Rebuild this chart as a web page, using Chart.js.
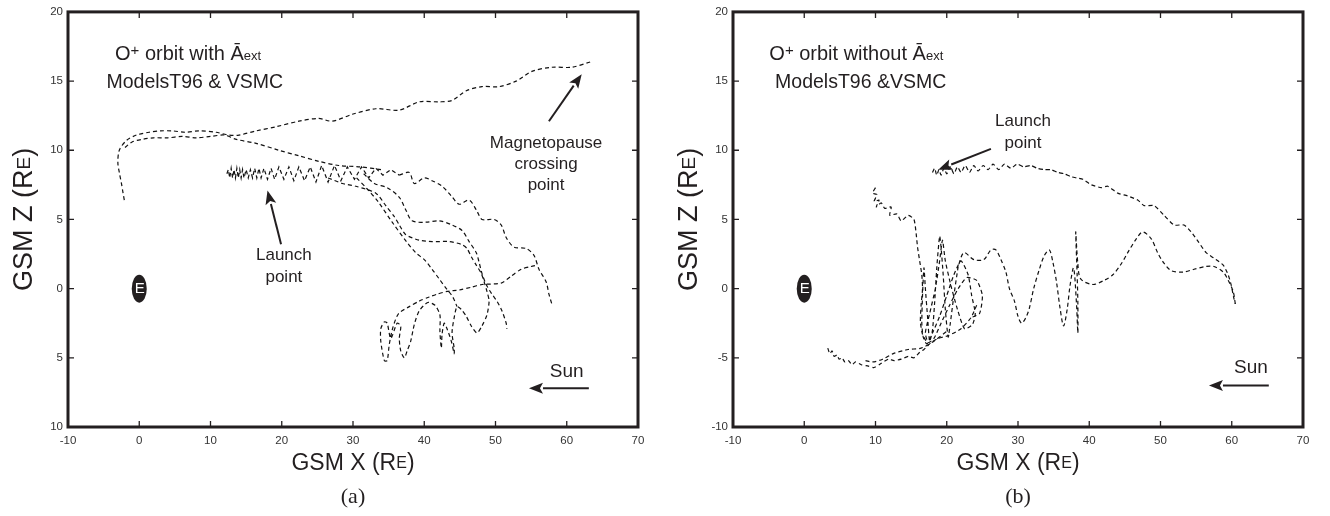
<!DOCTYPE html>
<html>
<head>
<meta charset="utf-8">
<script src="https://cdn.jsdelivr.net/npm/chart.js@4.4.0/dist/chart.umd.min.js"></script>
<style>
  body { margin: 0; background: #fff; }
  .panel { position: absolute; top: 0; width: 665px; height: 516px; }
</style>
</head>
<body>
<div class="panel" style="left:0"><canvas id="orbit-a" width="665" height="516"></canvas></div>
<div class="panel" style="left:665px"><canvas id="orbit-b" width="665" height="516"></canvas></div>
<script>
// tick values (GSM, Earth radii)
const xTicks = [-10, 0, 10, 20, 30, 40, 50, 60, 70];
const yTicks = [-10, -5, 0, 5, 10, 15, 20];

// (a) O+ orbit with A_ext — [x, z] pairs
const aArcOuter = [[-2.1,6.4],[-2.3,7.0],[-2.5,7.6],[-2.8,8.4],[-3.0,9.1],[-2.8,10.0],[-1.8,10.7],[-0.4,11.1],[1.4,11.3],[3.0,11.4],[4.7,11.4],[6.5,11.3],[8.4,11.4],[10.8,11.3],[12.5,11.1],[14.0,11.1],[16.4,11.4],[19.2,11.7],[22.4,12.1],[25.2,12.3],[27.1,12.1],[29.9,12.6],[33.2,13.0],[36.5,12.9],[39.3,13.5],[42.1,13.5],[43.9,13.6],[45.9,14.3],[48.1,14.6],[50.5,14.6],[52.9,15.0],[55.1,15.7],[57.9,16.0],[60.7,16.0],[63.4,16.4]];
const aArcInner = [[-2.0,10.2],[-1.0,10.6],[0.5,10.8],[2.0,10.9],[4.0,10.9],[6.0,11.0],[8.0,10.9],[10.0,11.0],[12.0,11.1],[13.5,10.8],[16.4,10.5],[19.6,10.0],[22.4,9.6],[25.2,9.2],[28.0,8.9],[31.0,8.8],[34.0,8.6]];
const aBand = [[12.3,8.3],[12.5,8.6],[12.7,8.0],[12.9,8.7],[13.1,8.0],[13.3,8.6],[13.5,8.0],[13.7,8.7],[13.9,8.0],[14.1,8.6],[14.3,8.0],[14.5,8.6],[14.7,8.0],[15.0,8.6],[15.3,8.0],[15.6,8.6],[15.9,8.0],[16.2,8.7],[16.5,8.0],[16.8,8.7],[17.1,8.0],[17.5,8.7],[18.0,7.9],[18.5,8.7],[19.0,7.9],[19.6,8.8],[20.3,7.9],[21.0,8.8],[21.7,7.8],[22.4,8.8],[23.2,7.8],[24.0,8.8],[24.8,7.7],[25.6,8.9],[26.5,7.7],[27.4,8.9],[28.3,7.8],[29.2,8.8],[30.2,7.9],[31.2,8.8],[32.2,8.0],[33.2,8.7],[34.2,8.2],[35.3,8.6],[36.5,8.2]];
const aAlpha = [[36.5,8.2],[37.9,8.4],[38.6,7.6],[40.0,8.0],[41.1,7.8],[42.5,7.4],[43.8,6.7],[44.9,6.1],[46.3,6.4],[47.4,5.6],[48.1,5.0],[49.8,5.0],[50.8,4.6],[51.5,3.7],[52.6,3.0],[54.3,2.9],[55.4,2.4],[56.1,1.4],[57.1,0.5],[57.5,-0.4],[57.9,-1.1]];
const aBeta = [[31.5,8.3],[33.0,7.6],[34.8,7.3],[36.5,6.6],[37.4,5.7],[38.3,4.9],[40.3,4.8],[42.1,4.9],[43.9,4.6],[45.3,4.2],[46.3,3.4],[47.3,2.6],[47.7,1.9],[48.1,1.1],[48.7,0.3],[49.5,-0.4],[50.2,-0.9],[50.9,-1.6],[51.5,-2.5],[51.6,-2.9]];
const aGamma = [[26.5,8.0],[28.5,7.6],[30.4,7.4],[33.2,6.9],[34.6,6.0],[35.8,5.2],[36.5,4.6],[37.4,3.9],[39.3,3.5],[41.1,3.4],[43.5,3.4],[45.2,3.2],[46.0,2.9],[46.6,2.3],[47.3,1.7],[48.0,1.1],[48.4,0.5],[48.8,-0.2],[49.1,-0.9],[48.8,-1.9],[48.1,-2.7],[47.4,-3.2],[46.6,-2.7],[45.9,-2.0],[45.2,-1.5],[44.6,-1.3],[44.2,-2.1],[43.9,-3.2],[44.2,-4.3],[44.2,-4.7],[43.8,-3.8],[43.2,-2.9],[42.8,-2.5],[42.5,-3.3],[42.4,-4.3],[42.2,-3.1],[42.2,-1.9],[41.5,-1.2],[40.5,-1.0],[39.3,-1.6],[38.6,-2.6],[38.1,-3.8],[37.6,-4.5],[37.2,-5.0],[36.7,-4.5],[36.5,-3.6],[36.7,-2.7],[36.2,-2.5],[35.3,-3.6],[34.8,-2.5],[34.4,-2.4],[33.9,-2.9],[33.9,-3.8],[34.4,-5.2],[34.8,-5.2],[35.1,-4.0],[35.6,-2.8],[36.4,-1.8],[37.9,-1.3],[39.3,-0.9],[40.7,-0.6],[41.8,-0.4],[43.2,-0.2],[44.9,-0.1],[46.6,0.1],[48.1,0.3],[50.8,0.4],[52.2,0.9],[53.6,1.4],[55.0,1.6],[55.8,1.7]];
const aDelta = [[30.5,8.0],[32.0,7.2],[33.5,6.3],[35.5,4.8],[37.5,3.4],[38.8,2.6],[40.0,2.1],[41.1,1.4],[42.1,0.7],[43.1,0.0],[44.0,-0.6],[44.6,-1.3]];

// (b) O+ orbit without A_ext
const bBand = [[18.0,8.4],[18.3,8.7],[18.6,8.2],[18.9,8.6],[19.2,8.2],[19.6,8.7],[20.0,8.3],[20.5,8.8],[21.0,8.3],[21.5,8.8],[22.0,8.4],[22.6,8.9],[23.2,8.4],[23.8,8.9],[24.4,8.5],[25.1,8.9],[25.8,8.6],[26.5,9.0],[27.3,8.6],[28.1,9.0],[29.0,8.7],[29.9,9.0],[30.8,8.8],[31.8,8.9],[32.7,8.7],[33.7,8.6],[34.6,8.6],[35.6,8.4],[36.5,8.3],[37.4,8.1],[38.2,8.0],[39.1,7.9],[40.3,7.5],[41.7,7.3],[42.6,7.4],[44.0,6.9],[45.4,6.7],[46.8,6.4],[47.7,6.0],[49.1,6.0],[50.5,5.3],[51.9,4.6],[53.3,4.6],[54.3,4.1],[55.3,3.4],[56.4,2.6],[57.5,2.2],[58.8,1.7],[59.5,1.0],[59.9,0.3],[60.3,-0.7],[60.5,-1.1]];
const bReturn = [[60.5,-1.1],[60.2,-0.2],[59.5,0.6],[58.8,1.2],[57.5,1.6],[56.4,1.6],[54.7,1.4],[53.2,1.2],[51.5,1.3],[50.4,1.9],[49.6,2.6],[48.7,3.6],[47.5,4.1],[46.6,3.6],[45.4,2.6],[44.5,1.8],[43.3,1.0],[42.1,0.6],[40.5,0.3],[38.8,0.7],[38.4,1.8],[38.1,4.1],[38.3,1.0],[38.4,-1.0],[38.4,-3.2],[38.2,-1.0],[37.8,1.5],[37.3,0.2],[36.9,-1.5],[36.4,-2.7],[35.9,-1.4],[35.4,0.5],[34.9,1.9],[34.4,2.8],[33.7,2.4],[33.0,1.4],[32.2,0.0],[31.6,-1.4],[31.1,-2.1],[30.5,-2.5],[30.0,-2.0],[29.5,-0.9],[28.8,0.0],[28.3,1.2],[27.6,2.1],[26.9,2.8],[26.2,2.8],[25.2,2.1],[23.8,2.1],[22.4,2.6],[21.6,1.6]];
const bMess = [[21.6,1.6],[21.0,-0.5],[20.5,-2.5],[20.2,-3.5],[19.8,-1.5],[19.5,1.0],[19.2,3.0],[19.0,3.8],[18.6,1.5],[18.3,-1.0],[18.0,-3.0],[17.6,-3.8],[17.3,-2.0],[17.0,0.0],[16.8,1.5],[16.6,-0.5],[16.5,-2.5],[16.7,-3.5],[17.2,-4.0],[18.0,-3.2],[19.0,-2.0],[20.0,-0.5],[21.0,1.0],[22.0,2.0],[23.0,1.0],[23.5,-0.5],[24.0,-1.8],[23.6,-2.6],[22.5,-2.9],[21.5,-1.5],[20.6,0.2],[19.8,2.0],[19.4,3.5],[19.0,2.0],[18.4,0.0],[17.6,-1.8],[17.0,-3.2],[17.4,-3.9],[18.2,-3.6],[19.2,-2.5],[20.4,-1.2],[21.6,0.0],[22.8,0.8],[24.2,0.6],[25.0,-0.5],[24.6,-1.8],[23.4,-2.1]];
const bCluster = [[10.0,7.3],[9.6,6.9],[10.2,6.8],[9.8,6.3],[10.5,6.4],[10.1,5.9],[10.8,6.2],[11.3,5.8],[12.2,5.9],[12.0,5.3],[13.0,5.4],[13.6,4.9],[14.6,5.3],[15.4,5.0],[15.7,4.0],[15.9,3.0],[16.2,2.0],[16.5,1.0],[16.6,0.0],[16.4,-1.2],[16.3,-2.4],[16.6,-3.3],[17.2,-3.9]];
const bBottom = [[3.3,-4.3],[3.6,-4.7],[3.9,-4.5],[4.2,-4.9],[4.6,-4.8],[4.9,-5.1],[5.3,-5.0],[5.7,-5.3],[6.2,-5.2],[6.7,-5.5],[7.2,-5.3],[8.0,-5.5],[9.0,-5.6],[9.8,-5.7],[10.8,-5.4],[11.8,-5.1],[12.6,-5.2],[13.6,-5.1],[14.6,-4.9],[15.4,-5.0],[16.2,-4.6],[16.8,-4.4],[17.8,-3.9],[18.8,-3.6],[20.2,-3.4],[22.0,-2.9],[23.4,-2.1],[24.2,-1.2]];
const bBottom2 = [[8.6,-5.2],[9.6,-5.3],[11.0,-5.1],[12.5,-4.7],[14.6,-4.4],[16.4,-4.3],[18.2,-3.8],[20.2,-3.0]];

const INK = "#231f20";
const SANS = "'Liberation Sans', Arial, Helvetica, sans-serif";

// draw a line of text made of runs with different sizes / offsets
function drawRuns(ctx, runs, x, y, align) {
    let total = 0;
    runs.forEach(r => {
        ctx.font = `${r.size}px ${r.family || SANS}`;
        r.w = ctx.measureText(r.t).width;
        total += r.w;
    });
    let cx = align === "center" ? x - total / 2 : x;
    runs.forEach(r => {
        ctx.font = `${r.size}px ${r.family || SANS}`;
        ctx.fillText(r.t, cx, y + (r.dy || 0));
        cx += r.w;
    });
}

function drawArrow(ctx, x1, y1, x2, y2) {
    const ang = Math.atan2(y2 - y1, x2 - x1);
    const len = 14, half = 5.5;
    const bx = x2 - Math.cos(ang) * len, by = y2 - Math.sin(ang) * len;
    ctx.beginPath();
    ctx.moveTo(x1, y1);
    ctx.lineTo(bx, by);
    ctx.lineWidth = 2;
    ctx.stroke();
    ctx.beginPath();
    ctx.moveTo(x2, y2);
    ctx.lineTo(bx - Math.sin(ang) * half, by + Math.cos(ang) * half);
    ctx.lineTo(bx + Math.cos(ang) * 3, by + Math.sin(ang) * 3);
    ctx.lineTo(bx + Math.sin(ang) * half, by - Math.cos(ang) * half);
    ctx.closePath();
    ctx.fill();
}

const overlay = {
    id: "overlay",
    afterDatasetsDraw(chart, args, opts) {
        const ctx = chart.ctx;
        const { left, right, top, bottom } = chart.chartArea;
        const sx = chart.scales.x, sy = chart.scales.y;
        const px = v => sx.getPixelForValue(v);
        const py = v => sy.getPixelForValue(v);
        ctx.save();
        ctx.strokeStyle = INK;
        ctx.fillStyle = INK;

        // inward ticks
        ctx.lineWidth = 1.3;
        ctx.beginPath();
        xTicks.forEach(v => {
            ctx.moveTo(px(v), bottom); ctx.lineTo(px(v), bottom - 6);
            ctx.moveTo(px(v), top); ctx.lineTo(px(v), top + 6);
        });
        yTicks.forEach(v => {
            ctx.moveTo(left, py(v)); ctx.lineTo(left + 6, py(v));
            ctx.moveTo(right, py(v)); ctx.lineTo(right - 6, py(v));
        });
        ctx.stroke();

        // frame
        ctx.lineWidth = 3;
        ctx.strokeRect(left, top, right - left, bottom - top);

        // Earth
        ctx.beginPath();
        ctx.ellipse(px(0), py(0), 7.5, 14, 0, 0, Math.PI * 2);
        ctx.fill();
        ctx.fillStyle = "#fff";
        ctx.font = `15px ${SANS}`;
        ctx.textAlign = "center";
        ctx.textBaseline = "middle";
        ctx.fillText("E", px(0) + 0.5, py(0) + 0.5);

        ctx.fillStyle = INK;
        ctx.textBaseline = "alphabetic";
        ctx.textAlign = "left";

        // panel heading
        drawRuns(ctx, [
            { t: "O", size: 20 }, { t: "+", size: 15, dy: -5 },
            { t: opts.heading, size: 20 }, { t: "\u0100", size: 20 }, { t: "ext", size: 13 }
        ], px(opts.headPos[0]), py(opts.headPos[1]), "left");
        drawRuns(ctx, [{ t: opts.models, size: 19.5 }], px(opts.modelsPos[0]), py(opts.modelsPos[1]), "left");

        // annotations
        ctx.textBaseline = "middle";
        opts.notes.forEach(n => {
            n.lines.forEach((s, i) => {
                drawRuns(ctx, [{ t: s, size: n.size }], px(n.at[0]), py(n.at[1]) + i * n.step, "center");
            });
        });
        opts.arrows.forEach(a => drawArrow(ctx, px(a[0]), py(a[1]), px(a[2]), py(a[3])));

        // axis titles
        const cx = (left + right) / 2, cy = (top + bottom) / 2;
        drawRuns(ctx, [{ t: "GSM X (R", size: 23 }, { t: "E", size: 16 }, { t: ")", size: 23 }], cx, bottom + 37, "center");
        drawRuns(ctx, [{ t: opts.tag, size: 22, family: "'Liberation Serif', 'Times New Roman', serif" }], cx, bottom + 70, "center");
        ctx.translate(left - 43, cy);
        ctx.rotate(-Math.PI / 2);
        drawRuns(ctx, [{ t: "GSM Z (R", size: 27 }, { t: "E", size: 19 }, { t: ")", size: 27 }], 0, 0, "center");
        ctx.restore();
    }
};

function trace(data, tension) {
    return {
        data: data,
        showLine: true,
        borderColor: "#111",
        borderWidth: 1.2,
        borderDash: [4, 3],
        pointRadius: 0,
        tension: tension,
        fill: false,
    };
}

function makeChart(id, datasets, noMinus, overlayOpts) {
    const tickFont = { family: SANS, size: 11.5 };
    return new Chart(document.getElementById(id), {
        type: "scatter",
        data: { datasets: datasets },
        options: {
            responsive: false,
            animation: false,
            devicePixelRatio: 1,
            layout: { padding: { left: 28, right: 27, top: 7, bottom: 29 } },
            plugins: { legend: { display: false }, tooltip: { enabled: false }, overlay: overlayOpts },
            scales: {
                x: {
                    type: "linear", min: -10, max: 70,
                    afterBuildTicks: s => { s.ticks = xTicks.map(v => ({ value: v })); },
                    afterFit: s => { s.height = 60; },
                    grid: { display: false, drawTicks: false },
                    border: { display: false },
                    ticks: { padding: 7, autoSkip: false, maxRotation: 0, color: "#333", font: tickFont },
                },
                y: {
                    type: "linear", min: -10, max: 20,
                    afterBuildTicks: s => { s.ticks = yTicks.map(v => ({ value: v })); },
                    afterFit: s => { s.width = 40; },
                    grid: { display: false, drawTicks: false },
                    border: { display: false },
                    ticks: {
                        padding: 5, autoSkip: false, color: "#333", font: tickFont,
                        callback: v => noMinus ? String(Math.abs(v)) : String(v),
                    },
                },
            },
        },
        plugins: [overlay],
    });
}

document.addEventListener("DOMContentLoaded", () => {
    makeChart("orbit-a", [
        trace(aArcOuter, 0.3), trace(aArcInner, 0.3), trace(aBand, 0),
        trace(aAlpha, 0.3), trace(aBeta, 0.3), trace(aGamma, 0.25), trace(aDelta, 0.3),
    ], true, {
        heading: " orbit with ", models: "ModelsT96 & VSMC",
        headPos: [-3.4, 16.5], modelsPos: [-4.6, 14.5], tag: "(a)",
        notes: [
            { lines: ["Magnetopause", "crossing", "point"], at: [57.1, 10.5], step: 21, size: 17 },
            { lines: ["Launch", "point"], at: [20.3, 2.4], step: 22, size: 17 },
            { lines: ["Sun"], at: [60.0, -6.0], step: 0, size: 19 },
        ],
        arrows: [[57.5, 12.1, 62.1, 15.5], [19.9, 3.2, 18.0, 7.1], [63.1, -7.2, 54.7, -7.2]],
    });

    makeChart("orbit-b", [
        trace(bBand, 0.2), trace(bReturn, 0.3), trace(bMess, 0.2), trace(bCluster, 0.2),
        trace(bBottom, 0.2), trace(bBottom2, 0.3),
    ], false, {
        heading: " orbit without ", models: "ModelsT96 &VSMC",
        headPos: [-4.9, 16.5], modelsPos: [-4.1, 14.5], tag: "(b)",
        notes: [
            { lines: ["Launch", "point"], at: [30.7, 12.1], step: 22, size: 17 },
            { lines: ["Sun"], at: [62.7, -5.7], step: 0, size: 19 },
        ],
        arrows: [[26.2, 10.1, 18.8, 8.6], [65.2, -7.0, 56.8, -7.0]],
    });
});
</script>
</body>
</html>
